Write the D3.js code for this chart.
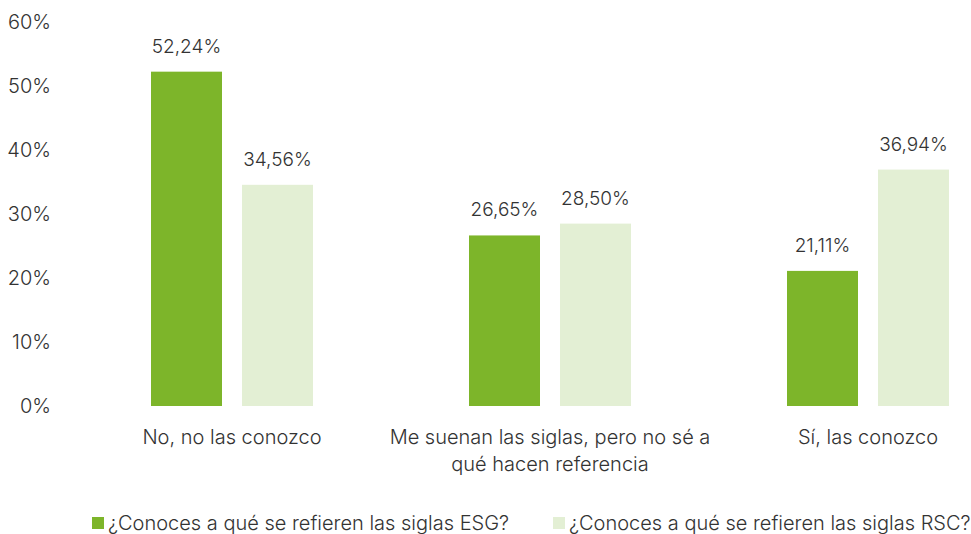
<!DOCTYPE html>
<html><head><meta charset="utf-8">
<script src="https://cdn.jsdelivr.net/npm/d3@7"></script>
<style>body{margin:0;background:#fff}text{font-family:Inter,sans-serif;font-weight:300;fill:#333}</style>
</head><body><svg id="c" width="971" height="534"></svg>
<script>
const categories = [["No, no las conozco"], ["Me suenan las siglas, pero no sé a", "qué hacen referencia"], ["Sí, las conozco"]];
const seriesNames = ["¿Conoces a qué se refieren las siglas ESG?", "¿Conoces a qué se refieren las siglas RSC?"];
const esg = [52.24, 26.65, 21.11];
const rsc = [34.56, 28.50, 36.94];
const yTicks = [0, 10, 20, 30, 40, 50, 60];
const colors = ["#7db52a", "#e3efd4"];

const svg = d3.select("#c");
const y = d3.scaleLinear().domain([0, 60]).range([406, 22]);
const x0 = d3.scaleBand().domain([0,1,2]).range([73, 1027]).padding(0);
const x1 = d3.scaleBand().domain([0,1]).range([78, 240]).paddingInner(0.2198).paddingOuter(0);
const fmt = v => v.toFixed(2).replace(".", ",") + "%";

const yAxis = d3.axisLeft(y).tickValues(yTicks).tickFormat(d => d + "%").tickSize(0).tickPadding(0);
const ga = svg.append("g").attr("transform", "translate(51,0)").call(yAxis);
ga.select(".domain").remove();
ga.selectAll("text").style("font-size", "20px").attr("fill", "#333").style("font-family", "Inter,sans-serif").style("font-weight", 300);

const series = [esg, rsc];
series.forEach((vals, s) => {
  const g = svg.append("g");
  g.selectAll("rect").data(vals).join("rect")
    .attr("x", (d, i) => x0(i) + x1(s))
    .attr("y", d => y(d))
    .attr("width", x1.bandwidth())
    .attr("height", d => y(0) - y(d))
    .attr("fill", colors[s]);
  g.selectAll("text").data(vals).join("text")
    .attr("x", (d, i) => x0(i) + x1(s) + x1.bandwidth() / 2)
    .attr("y", d => y(d) - 19)
    .attr("text-anchor", "middle")
    .style("font-size", "19px")
    .text(fmt);
});

categories.forEach((lines, i) => {
  const cx = x0(i) + (x1.range()[0] + x1.range()[1]) / 2;
  const t = svg.append("text").attr("text-anchor", "middle").style("font-size", "20px").attr("x", cx).attr("y", 444);
  lines.forEach((l, k) => t.append("tspan").attr("x", cx).attr("dy", k ? 27 : 0).text(l));
});

const legX = [92, 553];
seriesNames.forEach((n, s) => {
  svg.append("rect").attr("x", legX[s]).attr("y", 517).attr("width", 12).attr("height", 12).attr("fill", colors[s]);
  svg.append("text").attr("x", legX[s] + 16).attr("y", 530).style("font-size", "20px").text(n);
});
</script></body></html>
